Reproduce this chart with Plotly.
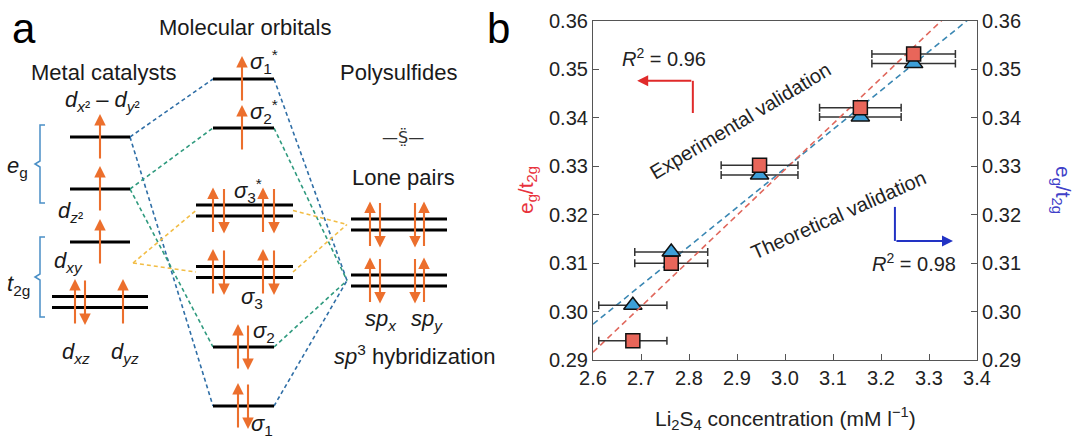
import numpy as np
import plotly.graph_objects as go

# ================= Panel a: schematic orbital energies (arbitrary units) =================
metal_names = ["dx2-y2", "dz2", "dxy", "t2g"]
metal_energy = [30.4, 25.2, 19.9, 13.9]
metal_degeneracy = [1, 1, 1, 2]
metal_spins = [["up"], ["up"], ["up"], ["up", "down", "up"]]

mo_names = ["s1*", "s2*", "s3*", "s3", "s2", "s1"]
mo_energy = [36.2, 31.3, 23.05, 16.9, 9.4, 3.5]
mo_degeneracy = [1, 1, 2, 2, 1, 1]
mo_spins = [["up"], ["up"], ["up", "down", "up", "down"], ["up", "down", "up", "down"],
            ["up", "down"], ["up", "down"]]

s_names = ["lone", "sp3"]
s_energy = [21.65, 16.05]
s_degeneracy = [2, 2]
s_spins = [["up", "down", "down", "up"], ["up", "down", "down", "up"]]

# ================= Panel b: data =================
li2s4_conc = [2.683, 2.763, 2.947, 3.157, 3.268]
li2s4_err = [0.071, 0.076, 0.080, 0.085, 0.087]
eg_t2g_exp = [0.2940, 0.3100, 0.3302, 0.3421, 0.3532]
eg_t2g_theo = [0.3013, 0.3123, 0.3282, 0.3402, 0.3512]
x_ticks = [2.6, 2.7, 2.8, 2.9, 3.0, 3.1, 3.2, 3.3, 3.4]
y_ticks = [0.29, 0.30, 0.31, 0.32, 0.33, 0.34, 0.35, 0.36]

FONT = "Liberation Sans, Arial, sans-serif"
ORANGE = "#ec6f2d"
W, H = 1080, 441

fig = go.Figure()

# ---------- panel a geometry helpers (layout only) ----------
col_extent = {
    "metal": {1: (7.0, 13.0), 2: (5.2, 14.8)},
    "mo": {1: (21.3, 27.4), 2: (19.6, 29.3)},
    "s": {2: (35.1, 44.7)},
}
arrow_x = {
    "dx2-y2": [10.0], "dz2": [10.0], "dxy": [10.0], "t2g": [7.5, 8.5, 12.3],
    "s1*": [24.2], "s2*": [24.2], "s3*": [21.3, 22.4, 26.3, 27.4],
    "s3": [21.3, 22.4, 26.3, 27.4], "s2": [23.8, 24.8], "s1": [23.8, 24.8],
    "lone": [37.0, 38.0, 41.5, 42.4], "sp3": [37.0, 38.0, 41.5, 42.4],
}
PAIR_GAP = 0.55
ARROW_HALF = 2.3

lx, ly = [], []
arrows = []
levels = {}
for col, names, energies, degs, spins in [
    ("metal", metal_names, metal_energy, metal_degeneracy, metal_spins),
    ("mo", mo_names, mo_energy, mo_degeneracy, mo_spins),
    ("s", s_names, s_energy, s_degeneracy, s_spins),
]:
    for n, e, d, sp in zip(names, energies, degs, spins):
        x0, x1 = col_extent[col][d]
        levels[n] = (x0, x1, e)
        offs = [0] if d == 1 else [-PAIR_GAP, PAIR_GAP]
        for o in offs:
            lx += [x0, x1, None]
            ly += [e + o, e + o, None]
        for xa, s in zip(arrow_x[n], sp):
            if s == "up":
                arrows.append((xa, e + ARROW_HALF, e - ARROW_HALF))
            else:
                arrows.append((xa, e - ARROW_HALF, e + ARROW_HALF))

def right(n):
    return (levels[n][1], levels[n][2])

def left(n):
    return (levels[n][0], levels[n][2])

s_node = lambda n: (levels[n][0] - 0.4, levels[n][2])
dxy_node = (levels["dxy"][1] + 0.3, levels["dxy"][2] - 2.1)

connectors = {
    "#2f6ea6": [(right("dx2-y2"), left("s1*")), (right("dx2-y2"), left("s1")),
                (right("s1*"), s_node("sp3")), (right("s1"), s_node("sp3"))],
    "#2f9a7e": [(right("dz2"), left("s2*")), (right("dz2"), left("s2")),
                (right("s2*"), s_node("sp3")), (right("s2"), s_node("sp3"))],
    "#f2bd45": [(dxy_node, left("s3*")), (dxy_node, left("s3")),
                (right("s3*"), s_node("lone")), (right("s3"), s_node("lone"))],
}
for color, segs in connectors.items():
    cx, cy = [], []
    for (a, b) in segs:
        cx += [a[0], b[0], None]
        cy += [a[1], b[1], None]
    fig.add_trace(go.Scatter(x=cx, y=cy, mode="lines", xaxis="x2", yaxis="y2",
                             line=dict(color=color, width=1.6, dash="4px,3px"),
                             hoverinfo="skip", showlegend=False))

fig.add_trace(go.Scatter(x=lx, y=ly, mode="lines", xaxis="x2", yaxis="y2",
                         line=dict(color="black", width=3), hoverinfo="skip",
                         showlegend=False))

# braces for e_g and t_2g
brace_color = "#4a8fc6"
bx, by = [], []
for top, bot in [(31.6, 23.8), (20.4, 12.4)]:
    mid = (top + bot) / 2
    bx += [4.5, 4.0, 4.0, 3.5, 4.0, 4.0, 4.5, None]
    by += [top, top, mid + 0.3, mid, mid - 0.3, bot, bot, None]
fig.add_trace(go.Scatter(x=bx, y=by, mode="lines", xaxis="x2", yaxis="y2",
                         line=dict(color=brace_color, width=1.5), hoverinfo="skip",
                         showlegend=False))

annotations = []
for xa, tip, tail in arrows:
    annotations.append(dict(x=xa, y=tip, ax=xa, ay=tail, xref="x2", yref="y2",
                            axref="x2", ayref="y2", text="", showarrow=True,
                            arrowhead=2, arrowsize=1.1, arrowwidth=2.1,
                            arrowcolor=ORANGE, standoff=0, startstandoff=0))

def lab(x, y, text, size=22, color="#1a1a1a", ref=("x2", "y2"), family=FONT, **kw):
    d = dict(x=x, y=y, xref=ref[0], yref=ref[1], text=text, showarrow=False,
             font=dict(family=family, size=size, color=color),
             xanchor="center", yanchor="middle")
    d.update(kw)
    annotations.append(d)

lab(2.4, 41.3, "a", size=42, color="black")
lab(49.8, 41.3, "b", size=42, color="black")
lab(10.4, 36.9, "Metal catalysts")
lab(24.5, 41.4, "Molecular orbitals")
lab(39.8, 36.9, "Polysulfides")
lab(40.3, 30.4, "—S\u0308\u0324—", size=16, color="#333", family="DejaVu Sans")
lab(40.3, 26.4, "Lone pairs")
lab(10.2, 34.0, "<i>d</i><sub><i>x</i>²</sub> – <i>d</i><sub><i>y</i>²</sub>")
lab(7.0, 22.9, "<i>d</i><sub><i>z</i>²</sub>")
lab(6.8, 17.9, "<i>d</i><sub><i>xy</i></sub>")
lab(7.6, 8.8, "<i>d</i><sub><i>xz</i></sub>")
lab(12.5, 8.8, "<i>d</i><sub><i>yz</i></sub>")
lab(1.7, 27.4, "<i>e</i><sub>g</sub>")
lab(1.8, 15.6, "<i>t</i><sub>2g</sub>")
lab(26.4, 38.0, "<i>σ</i><sub>1</sub><sup>*</sup>")
lab(26.4, 33.0, "<i>σ</i><sub>2</sub><sup>*</sup>")
lab(24.8, 25.1, "<i>σ</i><sub>3</sub><sup>*</sup>")
lab(25.2, 14.3, "<i>σ</i><sub>3</sub>")
lab(26.4, 10.9, "<i>σ</i><sub>2</sub>")
lab(26.2, 1.6, "<i>σ</i><sub>1</sub>")
lab(38.1, 12.1, "<i>sp</i><sub><i>x</i></sub>")
lab(42.7, 12.1, "<i>sp</i><sub><i>y</i></sub>")
lab(41.4, 8.6, "<i>sp</i><sup>3</sup> hybridization")

# ================= Panel b traces =================
xf = np.array([2.6, 3.4])
p_exp = np.polyfit(li2s4_conc, eg_t2g_exp, 1)
p_theo = np.polyfit(li2s4_conc, eg_t2g_theo, 1)

fig.add_trace(go.Scatter(x=xf, y=np.polyval(p_theo, xf), mode="lines", xaxis="x", yaxis="y",
                         line=dict(color="#3a87b3", width=1.6, dash="6px,4px"),
                         hoverinfo="skip", showlegend=False))
fig.add_trace(go.Scatter(x=li2s4_conc, y=eg_t2g_theo, mode="markers", xaxis="x", yaxis="y",
                         error_x=dict(type="data", array=li2s4_err, color="#333",
                                      thickness=1.5, width=4),
                         marker=dict(symbol="triangle-up", size=16, color="#3d9fd8",
                                     line=dict(color="#111", width=1.5)),
                         showlegend=False, name="Theoretical"))
fig.add_trace(go.Scatter(x=xf, y=np.polyval(p_exp, xf), mode="lines", xaxis="x", yaxis="y3",
                         line=dict(color="#e0675c", width=1.6, dash="6px,4px"),
                         hoverinfo="skip", showlegend=False))
fig.add_trace(go.Scatter(x=li2s4_conc, y=eg_t2g_exp, mode="markers", xaxis="x", yaxis="y3",
                         error_x=dict(type="data", array=li2s4_err, color="#333",
                                      thickness=1.5, width=4),
                         marker=dict(symbol="square", size=14, color="#e8665a",
                                     line=dict(color="#111", width=1.5)),
                         showlegend=False, name="Experimental"))

RED, BLUE = "#e02a2a", "#2233c4"
annotations.append(dict(x=2.692, y=0.34765, ax=2.808, ay=0.34765, xref="x", yref="y3",
                        axref="x", ayref="y3", text="", showarrow=True, arrowhead=2,
                        arrowsize=1.1, arrowwidth=2, arrowcolor=RED, standoff=0,
                        startstandoff=0))
annotations.append(dict(x=3.35, y=0.31459, ax=3.229, ay=0.31459, xref="x", yref="y",
                        axref="x", ayref="y", text="", showarrow=True, arrowhead=2,
                        arrowsize=1.1, arrowwidth=2, arrowcolor=BLUE, standoff=0,
                        startstandoff=0))
shapes = [
    dict(type="line", xref="x", yref="y3", x0=2.808, x1=2.808, y0=0.3410, y1=0.34765,
         line=dict(color=RED, width=2)),
    dict(type="line", xref="x", yref="y", x0=3.229, x1=3.229, y0=0.32161, y1=0.31459,
         line=dict(color=BLUE, width=2)),
]

def px(xp, yp):
    return xp / W, 1 - yp / H

for (xp, yp, text, ang, size, color) in [
    (664, 58, "<i>R</i><sup>2</sup> = 0.96", 0, 20, "#222"),
    (914, 262, "<i>R</i><sup>2</sup> = 0.98", 0, 20, "#222"),
    (740, 121, "Experimental validation", -31, 20, "#222"),
    (838, 215, "Theoretical validation", -24, 20, "#222"),
    (785, 418, "Li<sub>2</sub>S<sub>4</sub> concentration (mM l<sup>−1</sup>)", 0, 21, "#222"),
    (527, 190, "e<sub>g</sub>/t<sub>2g</sub>", -90, 21, "#e8323c"),
    (1062, 190, "e<sub>g</sub>/t<sub>2g</sub>", 90, 21, "#4040c8"),
]:
    ax_, ay_ = px(xp, yp)
    lab(ax_, ay_, text, size=size, color=color, ref=("paper", "paper"), textangle=ang)

axis_common = dict(ticks="inside", ticklen=6, tickwidth=1.2, tickcolor="#555",
                   showline=True, linecolor="#555", linewidth=1.2, showgrid=False,
                   zeroline=False, automargin=False,
                   tickfont=dict(family=FONT, size=20, color="#222"))

fig.update_layout(
    template="none",
    width=W, height=H, margin=dict(l=0, r=0, t=0, b=0, pad=0),
    paper_bgcolor="white", plot_bgcolor="rgba(0,0,0,0)",
    showlegend=False,
    font=dict(family=FONT),
    xaxis=dict(domain=[593 / W, 977 / W], range=[2.6, 3.4], tickvals=x_ticks,
               tickformat=".1f", mirror=True, anchor="y", **axis_common),
    yaxis=dict(domain=[1 - 360 / H, 1 - 21 / H], range=[0.29, 0.36], tickvals=y_ticks,
               tickformat=".2f", side="right", anchor="x", **axis_common),
    yaxis3=dict(range=[0.29, 0.36], tickvals=y_ticks, tickformat=".2f", side="left",
                overlaying="y", anchor="x", **axis_common),
    xaxis2=dict(domain=[0, 1], range=[0, 108], visible=False, anchor="y2",
                automargin=False),
    yaxis2=dict(domain=[0, 1], range=[0, 44.1], visible=False, anchor="x2",
                automargin=False),
    annotations=annotations,
    shapes=shapes,
)

fig.write_html("out.html", config={"displayModeBar": False},
               post_script="document.body.style.margin='0';document.body.style.overflow='hidden';")
